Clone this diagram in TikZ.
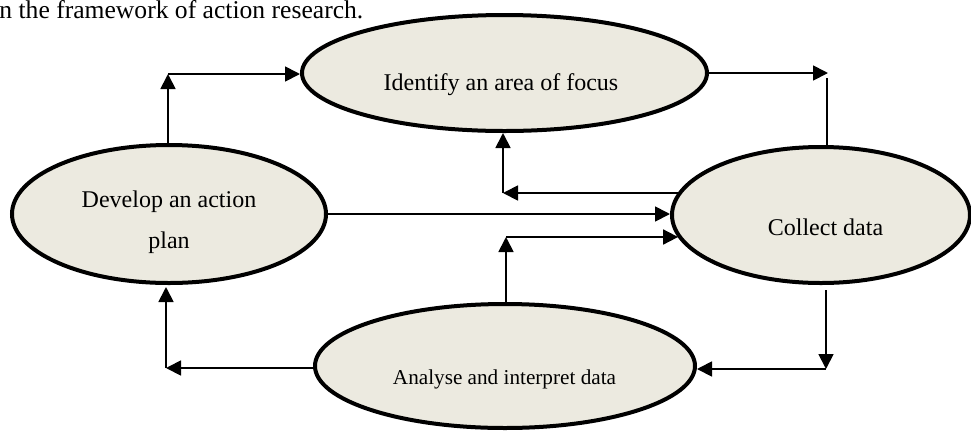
\documentclass[tikz,border=0pt]{standalone}
\usepackage{fontspec}
\setmainfont{Liberation Serif}
\usetikzlibrary{arrows.meta,shapes.geometric}
\definecolor{ellfill}{RGB}{236,234,224}
\begin{document}
\begin{tikzpicture}[x=0.5pt,y=-0.5pt,
  ell/.style={ellipse, draw=black, line width=2pt, fill=ellfill, inner sep=0pt},
  txt/.style={font=\fontsize{12}{20.5}\selectfont, inner sep=0pt, align=center},
  conn/.style={line width=0.9pt, -{Triangle[length=7.5pt,width=7.5pt]}},
  plainline/.style={line width=0.9pt}]
\useasboundingbox (0,0) rectangle (971,430);
% title fragment
\node[anchor=base west, inner sep=0pt, font=\fontsize{12.8}{15}\selectfont] (title) at (-1,18) {n the framework of action research.};
% ellipses
\node[ell, minimum width=202.5pt, minimum height=58pt] (id) at (504.5,73) {};
\node[ell, minimum width=157pt, minimum height=69pt] (dev) at (169,214) {};
\node[ell, minimum width=149pt, minimum height=68pt] (col) at (821,215) {};
\node[ell, minimum width=190pt, minimum height=62pt] (an) at (505,366) {};
% texts
\node[txt, anchor=base] (idt) at (501,90) {Identify an area of focus};
\node[txt] (devt) at (169,222) {Develop an action\\plan};
\node[txt, anchor=base] (colt) at (825.5,235) {Collect data};
\node[txt, anchor=base, font=\fontsize{10.6}{13}\selectfont] (ant) at (504.5,384) {Analyse and interpret data};
% connectors
\coordinate (c1) at (168,74);
\draw[conn] (c1 |- dev.north) -- (c1);
\draw[conn] (c1) -- (c1 -| id.west);
\coordinate (c2) at (828,73);
\coordinate (c2b) at (827,78);
\draw[conn] (id.east) -- (c2);
\draw[plainline] (c2b) -- (c2b |- col.north);
\coordinate (c3) at (503,193);
\draw[conn] (c3 -| col.171) -- (c3);
\draw[conn] (c3) -- (c3 |- id.south);
\draw[conn] (dev.east) -- (dev.east -| col.west);
\coordinate (c5) at (506,237);
\draw[conn] (c5 |- an.north) -- (c5);
\draw[conn] (c5) -- (c5 -| col.189);
\coordinate (c6a) at (826,290);
\coordinate (c6) at (826,369);
\draw[conn] (c6a) -- (c6);
\draw[conn] (c6) -- (c6 -| an.east);
\coordinate (c7) at (166,368);
\draw[conn] (c7 -| an.west) -- (c7);
\draw[conn, shorten >=1pt] (c7) -- (c7 |- dev.south);
\end{tikzpicture}
\end{document}
